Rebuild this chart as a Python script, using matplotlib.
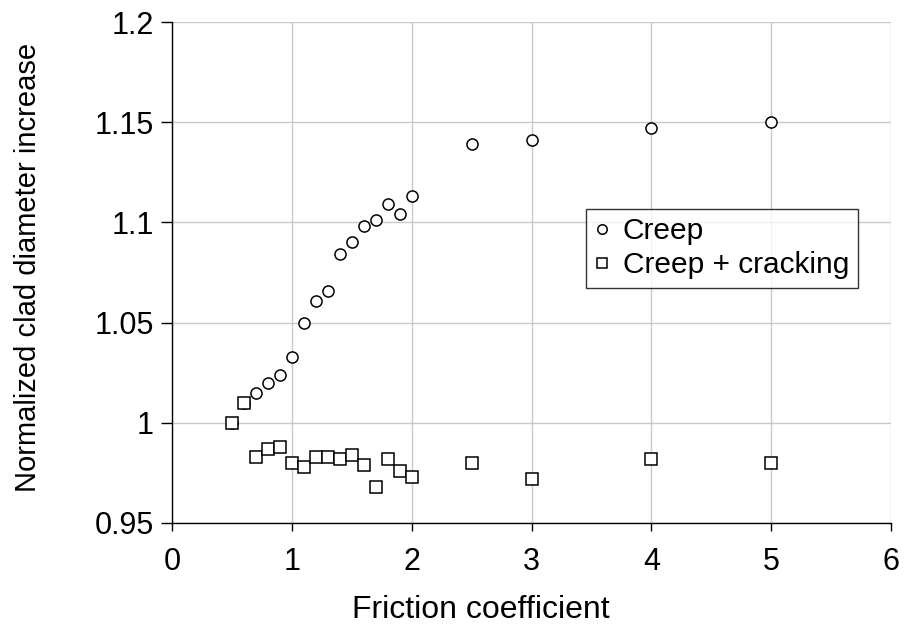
import matplotlib
matplotlib.use("Agg")
import matplotlib.pyplot as plt

plt.rcParams['font.family'] = ['Liberation Sans', 'DejaVu Sans']

# friction coefficient values for each run
friction = [0.5, 0.6, 0.7, 0.8, 0.9, 1.0, 1.1, 1.2, 1.3, 1.4, 1.5, 1.6, 1.7,
            1.8, 1.9, 2.0, 2.5, 3.0, 4.0, 5.0]

# normalized clad diameter, creep only
creep = [1.000, 1.010, 1.015, 1.020, 1.024, 1.033, 1.050, 1.061, 1.066, 1.084,
         1.090, 1.098, 1.101, 1.109, 1.104, 1.113, 1.139, 1.141, 1.147, 1.150]

# normalized clad diameter, creep + cracking
creep_crack = [1.000, 1.010, 0.983, 0.987, 0.988, 0.980, 0.978, 0.983, 0.983,
               0.982, 0.984, 0.979, 0.968, 0.982, 0.976, 0.973, 0.980, 0.972,
               0.982, 0.980]

fig = plt.figure(figsize=(9.16, 6.33), dpi=100)
ax = fig.add_axes([0.1878, 0.1738, 0.7849, 0.7914])

ax.plot(friction, creep, linestyle='none', marker='o', markersize=8,
        markerfacecolor='white', markeredgecolor='black', markeredgewidth=1.1,
        label='Creep', zorder=3)
ax.plot(friction, creep_crack, linestyle='none', marker='s', markersize=8,
        markerfacecolor='white', markeredgecolor='black', markeredgewidth=1.1,
        label='Creep + cracking', zorder=4)

ax.set_xlim(0, 6)
ax.set_ylim(0.95, 1.2)
ax.set_xticks([0, 1, 2, 3, 4, 5, 6])
ax.set_yticks([0.95, 1.0, 1.05, 1.1, 1.15, 1.2])
ax.set_yticklabels(['0.95', '1', '1.05', '1.1', '1.15', '1.2'])
ax.tick_params(axis='x', direction='out', length=6, width=1, labelsize=22, pad=11)
ax.tick_params(axis='y', direction='out', length=8, width=1, labelsize=22, pad=5)

ax.grid(True, color='#c8c8c8', linewidth=1)
ax.set_axisbelow(True)
for side in ['top', 'right']:
    ax.spines[side].set_visible(False)
for side in ['left', 'bottom']:
    ax.spines[side].set_color('black')
    ax.spines[side].set_linewidth(1)

ax.set_xlabel('Friction coefficient', fontsize=23, labelpad=13)
ax.set_ylabel('Normalized clad diameter increase', fontsize=21, labelpad=38)
# x label sits a little left of the axes centre
ax.xaxis.label.set_x(0.43)
ax.yaxis.label.set_y(0.51)

leg = ax.legend(loc='upper left', bbox_to_anchor=(0.576, 0.627), fontsize=21.5,
                frameon=True, fancybox=False, edgecolor='black',
                handlelength=0.5, handletextpad=0.45, borderpad=0.28,
                labelspacing=0.2, borderaxespad=0, markerscale=0.85)
leg.get_frame().set_linewidth(1)

fig.savefig('out.png', dpi=100)
